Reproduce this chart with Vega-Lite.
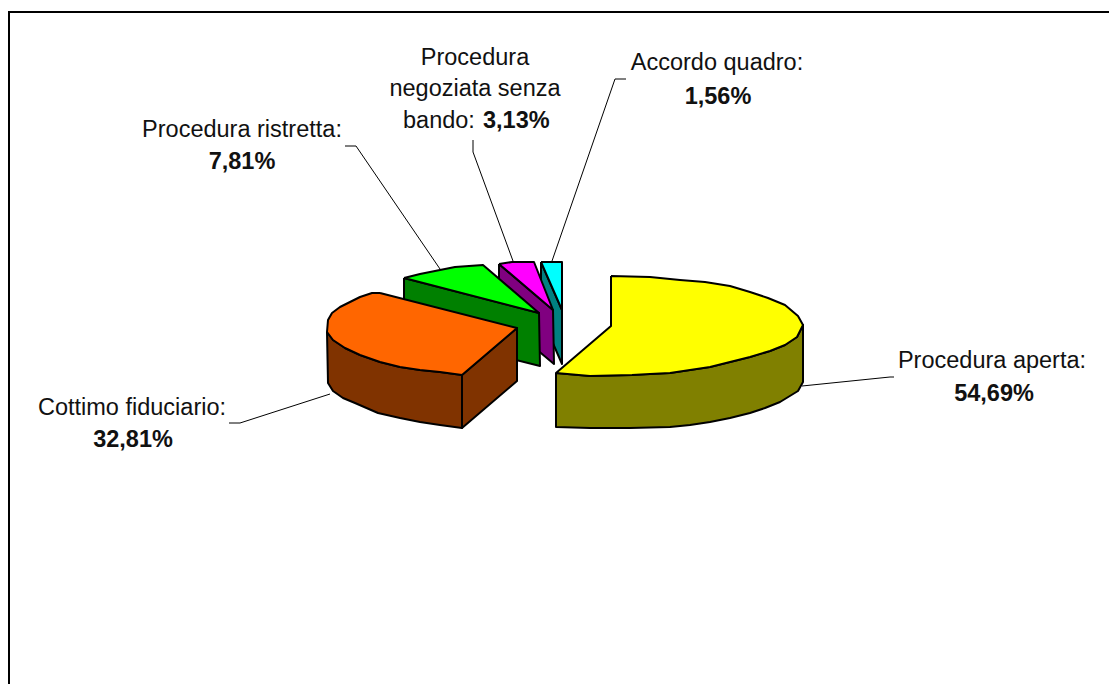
{"$schema":"https://vega.github.io/schema/vega-lite/v6.json","width":1109,"height":684,"padding":0,"autosize":{"type":"none"},"background":"white","view":{"stroke":null},
"datasets":{
"facets":[
{"part":"Accordo quadro side","x":541,"y":262},{"part":"Accordo quadro side","x":562,"y":310},{"part":"Accordo quadro side","x":562,"y":364},{"part":"Accordo quadro side","x":541,"y":316},{"part":"Accordo quadro side","x":541,"y":262},
{"part":"Accordo quadro top","x":541,"y":262},{"part":"Accordo quadro top","x":562,"y":262},{"part":"Accordo quadro top","x":562,"y":310},{"part":"Accordo quadro top","x":541,"y":262},
{"part":"Negoziata side","x":499,"y":264},{"part":"Negoziata side","x":553,"y":310},{"part":"Negoziata side","x":554,"y":364},{"part":"Negoziata side","x":499,"y":318},{"part":"Negoziata side","x":499,"y":264},
{"part":"Negoziata top","x":499,"y":264},{"part":"Negoziata top","x":512,"y":262},{"part":"Negoziata top","x":534,"y":262},{"part":"Negoziata top","x":553,"y":310},{"part":"Negoziata top","x":499,"y":264},
{"part":"Ristretta side","x":404,"y":278},{"part":"Ristretta side","x":539,"y":313},{"part":"Ristretta side","x":540,"y":366},{"part":"Ristretta side","x":404,"y":332},{"part":"Ristretta side","x":404,"y":278},
{"part":"Ristretta top","x":404,"y":278},{"part":"Ristretta top","x":420,"y":274},{"part":"Ristretta top","x":440,"y":270},{"part":"Ristretta top","x":455,"y":267},{"part":"Ristretta top","x":483,"y":265},{"part":"Ristretta top","x":539,"y":313},{"part":"Ristretta top","x":404,"y":278},
{"part":"Cottimo cut","x":462,"y":375},{"part":"Cottimo cut","x":517,"y":328},{"part":"Cottimo cut","x":517,"y":381},{"part":"Cottimo cut","x":462,"y":428},{"part":"Cottimo cut","x":462,"y":375},
{"part":"Cottimo side","x":327,"y":332},{"part":"Cottimo side","x":333,"y":340},{"part":"Cottimo side","x":345,"y":348},{"part":"Cottimo side","x":360,"y":355},{"part":"Cottimo side","x":380,"y":362},{"part":"Cottimo side","x":400,"y":367},{"part":"Cottimo side","x":420,"y":370},{"part":"Cottimo side","x":440,"y":372},{"part":"Cottimo side","x":462,"y":375},{"part":"Cottimo side","x":462,"y":428},{"part":"Cottimo side","x":440,"y":425},{"part":"Cottimo side","x":420,"y":422},{"part":"Cottimo side","x":400,"y":418},{"part":"Cottimo side","x":378,"y":413},{"part":"Cottimo side","x":355,"y":403},{"part":"Cottimo side","x":343,"y":398},{"part":"Cottimo side","x":333,"y":391},{"part":"Cottimo side","x":328,"y":383},{"part":"Cottimo side","x":327,"y":332},
{"part":"Cottimo top","x":380,"y":293},{"part":"Cottimo top","x":372,"y":293},{"part":"Cottimo top","x":360,"y":297},{"part":"Cottimo top","x":350,"y":302},{"part":"Cottimo top","x":340,"y":307},{"part":"Cottimo top","x":332,"y":313},{"part":"Cottimo top","x":328,"y":320},{"part":"Cottimo top","x":327,"y":332},{"part":"Cottimo top","x":333,"y":340},{"part":"Cottimo top","x":345,"y":348},{"part":"Cottimo top","x":360,"y":355},{"part":"Cottimo top","x":380,"y":362},{"part":"Cottimo top","x":400,"y":367},{"part":"Cottimo top","x":420,"y":370},{"part":"Cottimo top","x":440,"y":372},{"part":"Cottimo top","x":462,"y":375},{"part":"Cottimo top","x":517,"y":328},{"part":"Cottimo top","x":380,"y":293},
{"part":"Aperta side","x":556,"y":373},{"part":"Aperta side","x":590,"y":376},{"part":"Aperta side","x":632,"y":375},{"part":"Aperta side","x":650,"y":374},{"part":"Aperta side","x":670,"y":373},{"part":"Aperta side","x":690,"y":370},{"part":"Aperta side","x":710,"y":367},{"part":"Aperta side","x":730,"y":362},{"part":"Aperta side","x":750,"y":357},{"part":"Aperta side","x":770,"y":351},{"part":"Aperta side","x":785,"y":345},{"part":"Aperta side","x":797,"y":337},{"part":"Aperta side","x":803,"y":325},{"part":"Aperta side","x":803,"y":382},{"part":"Aperta side","x":798,"y":391},{"part":"Aperta side","x":780,"y":402},{"part":"Aperta side","x":765,"y":408},{"part":"Aperta side","x":750,"y":413},{"part":"Aperta side","x":730,"y":418},{"part":"Aperta side","x":710,"y":422},{"part":"Aperta side","x":690,"y":425},{"part":"Aperta side","x":670,"y":427},{"part":"Aperta side","x":630,"y":428},{"part":"Aperta side","x":590,"y":428},{"part":"Aperta side","x":556,"y":427},{"part":"Aperta side","x":556,"y":373},
{"part":"Aperta top","x":611,"y":276},{"part":"Aperta top","x":650,"y":277},{"part":"Aperta top","x":680,"y":280},{"part":"Aperta top","x":705,"y":282},{"part":"Aperta top","x":730,"y":286},{"part":"Aperta top","x":750,"y":292},{"part":"Aperta top","x":768,"y":298},{"part":"Aperta top","x":785,"y":305},{"part":"Aperta top","x":798,"y":316},{"part":"Aperta top","x":803,"y":325},{"part":"Aperta top","x":797,"y":337},{"part":"Aperta top","x":785,"y":345},{"part":"Aperta top","x":770,"y":351},{"part":"Aperta top","x":750,"y":357},{"part":"Aperta top","x":730,"y":362},{"part":"Aperta top","x":710,"y":367},{"part":"Aperta top","x":690,"y":370},{"part":"Aperta top","x":670,"y":373},{"part":"Aperta top","x":650,"y":374},{"part":"Aperta top","x":632,"y":375},{"part":"Aperta top","x":590,"y":376},{"part":"Aperta top","x":556,"y":373},{"part":"Aperta top","x":611,"y":326},{"part":"Aperta top","x":611,"y":276}
],
"leaders":[
{"slice":"Aperta","x":802,"y":386},{"slice":"Aperta","x":890,"y":377},{"slice":"Aperta","x":894,"y":377},
{"slice":"Cottimo","x":330,"y":394},{"slice":"Cottimo","x":240,"y":423},{"slice":"Cottimo","x":229,"y":423},
{"slice":"Ristretta","x":440,"y":269},{"slice":"Ristretta","x":356,"y":146},{"slice":"Ristretta","x":345,"y":146},
{"slice":"Negoziata","x":513,"y":261},{"slice":"Negoziata","x":473,"y":152},{"slice":"Negoziata","x":473,"y":140},
{"slice":"Accordo","x":552,"y":261},{"slice":"Accordo","x":615,"y":79},{"slice":"Accordo","x":626,"y":79}
],
"frame":[{"x":9,"y":684},{"x":9,"y":12},{"x":1109,"y":12}],
"names":[
{"t":"Procedura aperta:","x":992,"y":368},{"t":"Cottimo fiduciario:","x":132,"y":415},{"t":"Procedura ristretta:","x":242,"y":137},{"t":"Procedura","x":475,"y":65},{"t":"negoziata senza","x":475,"y":96},{"t":"Accordo quadro:","x":717,"y":70}
],
"shares":[
{"t":"54,69%","x":994,"y":401},{"t":"32,81%","x":133,"y":447},{"t":"7,81%","x":242,"y":169},{"t":"1,56%","x":718,"y":104}
]
},
"layer":[
{"data":{"name":"frame"},"mark":{"type":"line","stroke":"black","strokeWidth":2,"clip":true},"encoding":{"x":{"field":"x","type":"quantitative","scale":{"domain":[0,1109],"nice":false,"zero":false},"axis":null},"y":{"field":"y","type":"quantitative","scale":{"domain":[684,0],"nice":false,"zero":false},"axis":null},"order":{"value":null}}},
{"data":{"name":"leaders"},"mark":{"type":"line","stroke":"black","strokeWidth":1},"encoding":{"x":{"field":"x","type":"quantitative","axis":null},"y":{"field":"y","type":"quantitative","axis":null},"detail":{"field":"slice"},"order":{"value":null}}},
{"data":{"name":"facets"},"mark":{"type":"line","stroke":"black","strokeWidth":2,"strokeJoin":"round"},"encoding":{"x":{"field":"x","type":"quantitative","axis":null},"y":{"field":"y","type":"quantitative","axis":null},"fill":{"field":"part","type":"nominal","legend":null,"scale":{"domain":["Accordo quadro side","Accordo quadro top","Negoziata side","Negoziata top","Ristretta side","Ristretta top","Cottimo cut","Cottimo side","Cottimo top","Aperta side","Aperta top"],"range":["#008080","#00FFFF","#800080","#FF00FF","#008000","#00FF00","#803300","#803300","#FF6600","#808000","#FFFF00"]}},"order":{"value":null}}},
{"data":{"name":"names"},"mark":{"type":"text","font":"Liberation Sans","fontSize":23.5,"align":"center","baseline":"alphabetic","color":"#111111"},"encoding":{"x":{"field":"x","type":"quantitative","axis":null},"y":{"field":"y","type":"quantitative","axis":null},"text":{"field":"t"}}},
{"data":{"values":[{"t":"bando:","x":403,"y":128}]},"mark":{"type":"text","font":"Liberation Sans","fontSize":23.5,"align":"left","baseline":"alphabetic","color":"#111111"},"encoding":{"x":{"field":"x","type":"quantitative","axis":null},"y":{"field":"y","type":"quantitative","axis":null},"text":{"field":"t"}}},
{"data":{"name":"shares"},"mark":{"type":"text","font":"Liberation Sans","fontSize":23.5,"fontWeight":"bold","align":"center","baseline":"alphabetic","color":"#111111"},"encoding":{"x":{"field":"x","type":"quantitative","axis":null},"y":{"field":"y","type":"quantitative","axis":null},"text":{"field":"t"}}},
{"data":{"values":[{"t":"3,13%","x":483,"y":128}]},"mark":{"type":"text","font":"Liberation Sans","fontSize":23.5,"fontWeight":"bold","align":"left","baseline":"alphabetic","color":"#111111"},"encoding":{"x":{"field":"x","type":"quantitative","axis":null},"y":{"field":"y","type":"quantitative","axis":null},"text":{"field":"t"}}}
],
"resolve":{"scale":{"x":"shared","y":"shared"}}}
